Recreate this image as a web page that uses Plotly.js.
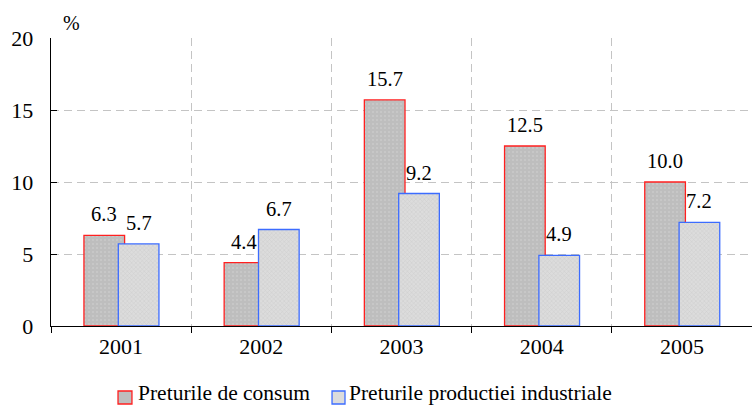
<!DOCTYPE html>
<html>
<head>
<meta charset="utf-8">
<script src="https://cdn.plot.ly/plotly-3.0.1.min.js"></script>
<style>html,body{margin:0;padding:0;background:#fff;}#chart{width:752px;height:405px;}</style>
</head>
<body>
<div id="chart"></div>
<script>
const years = ["2001", "2002", "2003", "2004", "2005"];
const consumerPrices = [6.3, 4.4, 15.7, 12.5, 10.0];
const industrialPrices = [5.7, 6.7, 9.2, 4.9, 7.2];
const seriesNames = ["Preturile de consum", "Preturile productiei industriale"];
const yTicks = [0, 5, 10, 15, 20];

const FONT = "Liberation Serif";
const barWidth = 0.29;
const offsets = [-0.265, -0.02];
const lineColors = ["#ff2020", "#3c6cff"];
const fillColors = ["#bebebe", "#dcdcdc"];

const traces = [
  {
    type: "bar", name: seriesNames[0], x: years, y: consumerPrices,
    width: barWidth, offset: offsets[0], showlegend: false,
    marker: {
      color: fillColors[0],
      line: {color: lineColors[0], width: 1.3},
      pattern: {shape: ".", bgcolor: fillColors[0], fgcolor: "#cacaca", size: 4, solidity: 0.2}
    },
    hoverinfo: "skip"
  },
  {
    type: "bar", name: seriesNames[1], x: years, y: industrialPrices,
    width: barWidth, offset: offsets[1], showlegend: false,
    marker: {
      color: fillColors[1],
      line: {color: lineColors[1], width: 1.3},
      pattern: {shape: "x", bgcolor: fillColors[1], fgcolor: "#cdcdcd", size: 3, solidity: 0.3}
    },
    hoverinfo: "skip"
  }
];

const annotations = [];
[consumerPrices, industrialPrices].forEach((vals, s) => {
  vals.forEach((v, i) => {
    annotations.push({
      x: i + offsets[s] + barWidth / 2, y: v, xref: "x", yref: "y",
      text: v.toFixed(1), showarrow: false, yanchor: "middle", yshift: 21,
      font: {family: FONT, size: 20.5, color: "#000"}
    });
  });
});
annotations.push({
  x: 0, y: 1, xref: "paper", yref: "paper", text: "%", showarrow: false,
  xanchor: "left", yanchor: "bottom", xshift: 10, yshift: 2,
  font: {family: FONT, size: 20, color: "#000"}
});

// manual legend (paper coordinates)
const legendSymX = [[0.0956, 0.1155], [0.4009, 0.4194]];
const legendTextX = [0.1213, 0.4223];
const shapes = [];
seriesNames.forEach((name, s) => {
  shapes.push({
    type: "rect", xref: "paper", yref: "paper",
    x0: legendSymX[s][0], x1: legendSymX[s][1], y0: -0.2708, y1: -0.2257,
    fillcolor: fillColors[s], line: {color: lineColors[s], width: 1.3}, layer: "above"
  });
  annotations.push({
    x: legendTextX[s], y: -0.2326, xref: "paper", yref: "paper",
    text: name, showarrow: false, xanchor: "left", yanchor: "middle",
    font: {family: FONT, size: 21.5, color: "#000"}
  });
});

const layout = {
  width: 752, height: 405,
  margin: {l: 51, r: 0, t: 38, b: 79},
  paper_bgcolor: "#fff", plot_bgcolor: "#fff",
  barmode: "overlay",
  showlegend: false,
  font: {family: FONT, color: "#000"},
  xaxis: {
    type: "category", range: [-0.5, 4.5],
    tickson: "boundaries", ticks: "outside", ticklen: 6, tickcolor: "#000",
    showline: true, linecolor: "#000", linewidth: 1.3,
    showgrid: true, gridcolor: "#c4c4c4", griddash: "8px,5px", gridwidth: 1,
    tickfont: {family: FONT, size: 22, color: "#000"},
    automargin: false,
    fixedrange: true
  },
  yaxis: {
    range: [0, 20], tickvals: yTicks, ticktext: yTicks.map(String),
    ticks: "inside", ticklen: 6, tickcolor: "#000",
    showline: true, linecolor: "#000", linewidth: 1.3,
    showgrid: true, gridcolor: "#c4c4c4", griddash: "8px,5px", gridwidth: 1,
    zeroline: false,
    tickfont: {family: FONT, size: 22, color: "#000"},
    ticklabelstandoff: 12,
    automargin: false,
    fixedrange: true
  },
  shapes: shapes,
  annotations: annotations
};

Plotly.newPlot("chart", traces, layout, {displayModeBar: false, staticPlot: true});
</script>
</body>
</html>
